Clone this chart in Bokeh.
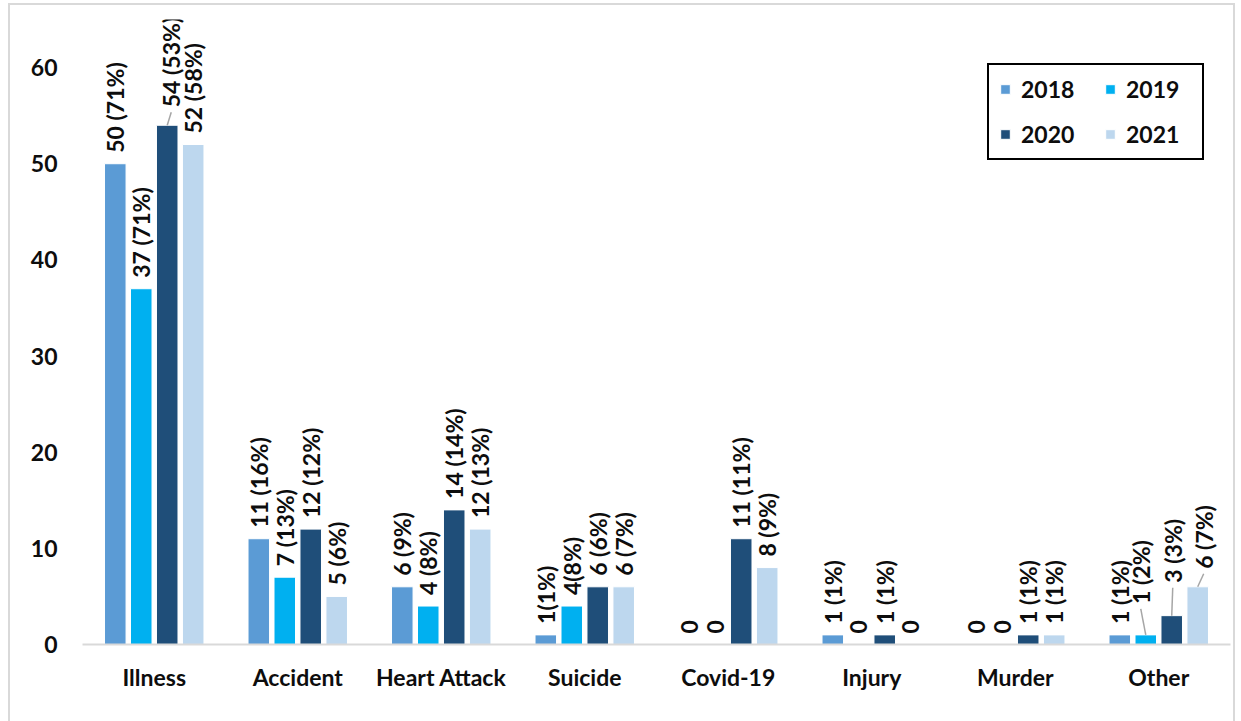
import numpy as np
from bokeh.plotting import figure
from bokeh.models import Range1d, FixedTicker, Legend, LegendItem, ColumnDataSource
from bokeh.core.properties import value
from bokeh.embed import file_html
from bokeh.resources import INLINE

categories = ["Illness", "Accident", "Heart Attack", "Suicide", "Covid-19", "Injury", "Murder", "Other"]
years = ["2018", "2019", "2020", "2021"]

v2018 = [50, 11, 6, 1, 0, 1, 0, 1]
v2019 = [37, 7, 4, 4, 0, 0, 0, 1]
v2020 = [54, 12, 14, 6, 11, 1, 1, 3]
v2021 = [52, 5, 12, 6, 8, 0, 1, 6]

l2018 = ["50 (71%)", "11 (16%)", "6 (9%)", "1(1%)", "0", "1 (1%)", "0", "1 (1%)"]
l2019 = ["37 (71%)", "7 (13%)", "4 (8%)", "4(8%)", "0", "0", "0", "1 (2%)"]
l2020 = ["54 (53%)", "12 (12%)", "14 (14%)", "6 (6%)", "11 (11%)", "1 (1%)", "1 (1%)", "3 (3%)"]
l2021 = ["52 (58%)", "5 (6%)", "12 (13%)", "6 (7%)", "8 (9%)", "0", "1 (1%)", "6 (7%)"]

series_values = [v2018, v2019, v2020, v2021]
series_labels = [l2018, l2019, l2020, l2021]

# ---- styling ----
colors = ["#5B9BD5", "#00B0F0", "#1F4E79", "#BDD7EE"]
offsets = [-0.2715, -0.0905, 0.0905, 0.2715]
bar_w = 0.15
# manual label displacement (px) for labels that carry a leader line
label_shift = {("2020", "Illness"): (4, 7), ("2019", "Other"): (-5, 20),
               ("2020", "Other"): (1, 22), ("2021", "Other"): (6, 7)}
FONT = "Lato"
TXT = "#0d0d0d"

W, H = 1227, 720
ML, MR, MT, MB = 72, 7, 14, 81
YMAX = 65
frame_w = W - ML - MR
frame_h = H - MT - MB
px_y = frame_h / YMAX
px_x = frame_w / len(categories)
GAP = 11

p = figure(width=W, height=H, x_range=Range1d(0, len(categories)), y_range=Range1d(0, YMAX),
           output_backend="svg", toolbar_location=None,
           min_border_left=ML, min_border_right=MR, min_border_top=MT, min_border_bottom=MB)
p.styles = {"border-top": "2px solid #d9d9d9", "border-left": "2px solid #d9d9d9",
            "border-right": "2px solid #d9d9d9", "margin-left": "8px", "margin-top": "3px"}

renderers = []
for j, (yr, vals, labs) in enumerate(zip(years, series_values, series_labels)):
    xs = [i + 0.5 + offsets[j] for i in range(len(categories))]
    src = ColumnDataSource(dict(x=xs, top=vals))
    r = p.vbar(x="x", top="top", width=bar_w, source=src, fill_color=colors[j],
               line_color="white", line_width=1)
    renderers.append(r)
    dx = [label_shift.get((yr, c), (0, 0))[0] for c in categories]
    extra = [label_shift.get((yr, c), (0, 0))[1] for c in categories]
    dy = [-(GAP + e) for e in extra]
    tsrc = ColumnDataSource(dict(x=xs, y=vals, text=labs, dx=dx, dy=dy))
    p.text(x="x", y="y", text="text", source=tsrc, angle=np.pi / 2, x_offset="dx", y_offset="dy",
           text_align="left", text_baseline="middle", text_font=value(FONT),
           text_font_style="bold", text_font_size="23px", text_color=TXT)
    # leader lines
    lx0, ly0, lx1, ly1 = [], [], [], []
    for i, c in enumerate(categories):
        if (yr, c) in label_shift:
            sx, sy = label_shift[(yr, c)]
            lx0.append(xs[i]); ly0.append(vals[i])
            lx1.append(xs[i] + sx / px_x); ly1.append(vals[i] + (GAP + sy - 5) / px_y)
    if lx0:
        p.segment(x0=lx0, y0=ly0, x1=lx1, y1=ly1, line_color="#a6a6a6", line_width=1.5)

p.xaxis.ticker = FixedTicker(ticks=[i + 0.5 for i in range(len(categories))])
p.xaxis.major_label_overrides = {i + 0.5: c for i, c in enumerate(categories)}
p.xaxis.axis_line_color = "#d9d9d9"
p.xaxis.axis_line_width = 2
p.xaxis.major_tick_line_color = None
p.xaxis.minor_tick_line_color = None
p.xaxis.major_label_standoff = 12
p.xaxis.major_label_text_font = FONT
p.xaxis.major_label_text_font_style = "bold"
p.xaxis.major_label_text_font_size = "23px"
p.xaxis.major_label_text_color = TXT

p.yaxis.ticker = FixedTicker(ticks=[0, 10, 20, 30, 40, 50, 60])
p.yaxis.axis_line_color = None
p.yaxis.major_tick_line_color = None
p.yaxis.minor_tick_line_color = None
p.yaxis.major_label_standoff = 19
p.yaxis.major_label_text_font = FONT
p.yaxis.major_label_text_font_style = "bold"
p.yaxis.major_label_text_font_size = "23px"
p.yaxis.major_label_text_color = TXT

p.grid.visible = False
p.outline_line_color = None

legend = Legend(items=[LegendItem(label=yr, renderers=[r]) for yr, r in zip(years, renderers)],
                location=(905, 484), ncols=2, orientation="horizontal")
legend.border_line_color = "black"
legend.border_line_alpha = 1.0
legend.border_line_width = 2
legend.glyph_width = 12
legend.glyph_height = 12
legend.label_height = 24
legend.label_width = 66
legend.label_standoff = 10
legend.spacing = 17
legend.padding = 10
legend.margin = 0
legend.label_text_font = FONT
legend.label_text_font_style = "bold"
legend.label_text_font_size = "23px"
legend.label_text_color = TXT
p.add_layout(legend)

open("out.html", "w").write(file_html(p, INLINE))
